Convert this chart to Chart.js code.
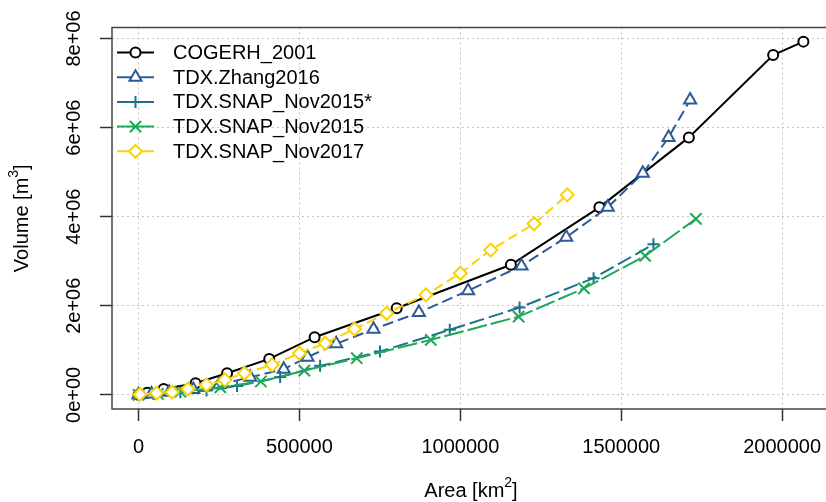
<!DOCTYPE html>
<html>
<head>
<meta charset="utf-8">
<script src="https://cdn.jsdelivr.net/npm/chart.js@4.4.1/dist/chart.umd.min.js"></script>
<style>
    html, body { margin: 0; padding: 0; background: #fff; overflow: hidden; }
    #wrap { width: 840px; height: 502px; }
</style>
</head>
<body>
<div id="wrap"><canvas id="volumeChart" width="840" height="502"></canvas></div>
<script>
// series names (legend order)
const seriesNames = ["COGERH_2001", "TDX.Zhang2016", "TDX.SNAP_Nov2015*", "TDX.SNAP_Nov2015", "TDX.SNAP_Nov2017"];

// area [km2] / volume [m3]
const cogerhArea = [0, 27000, 78000, 177000, 275000, 406000, 547000, 802000, 1157000, 1432000, 1710000, 1972000, 2066000];
const cogerhVol  = [0, 50000, 130000, 260000, 487000, 808000, 1295000, 1945000, 2920000, 4210000, 5780000, 7630000, 7930000];

const zhangArea = [0, 40000, 95000, 170000, 250000, 347000, 451000, 525000, 614000, 730000, 871000, 1024000, 1190000, 1329000, 1458000, 1567000, 1647000, 1714000];
const zhangVol  = [0, 20000, 60000, 120000, 230000, 397000, 577000, 846000, 1145000, 1474000, 1847000, 2340000, 2895000, 3540000, 4210000, 4975000, 5780000, 6620000];

const snapStarArea = [0, 50000, 130000, 211000, 306000, 440000, 564000, 750000, 967000, 1184000, 1414000, 1600000];
const snapStarVol  = [0, 20000, 60000, 100000, 200000, 400000, 651000, 972000, 1460000, 1960000, 2620000, 3380000];

const snap15Area = [0, 60000, 130000, 254000, 380000, 515000, 678000, 908000, 1181000, 1384000, 1574000, 1732000];
const snap15Vol  = [0, 20000, 70000, 170000, 300000, 545000, 823000, 1234000, 1757000, 2390000, 3120000, 3950000];

const snap17Area = [4000, 56000, 104000, 153000, 211000, 268000, 329000, 415000, 500000, 580000, 671000, 771000, 893000, 1000000, 1094000, 1229000, 1332000];
const snap17Vol  = [10000, 40000, 60000, 130000, 224000, 337000, 487000, 673000, 935000, 1160000, 1480000, 1833000, 2244000, 2730000, 3250000, 3840000, 4490000];

// axis ticks
const xTicks = [0, 500000, 1000000, 1500000, 2000000];
const xTickLabels = ["0", "500000", "1000000", "1500000", "2000000"];
const yTicks = [0, 2000000, 4000000, 6000000, 8000000];
const yTickLabels = ["0e+00", "2e+06", "4e+06", "6e+06", "8e+06"];

const FONT = "'Liberation Sans', Arial, sans-serif";

function toPoints(xs, ys) {
    return xs.map((x, i) => ({ x: x, y: ys[i] }));
}

const styles = [
    { color: "#000000", point: "circle",   radius: 5,   dash: [] },
    { color: "#2E5B97", point: "triangle", radius: 7,   dash: [11, 5] },
    { color: "#1B7389", point: "cross",    radius: 6,   dash: [15, 5] },
    { color: "#1FA85A", point: "crossRot", radius: 8,   dash: [20, 4] },
    { color: "#F9D200", point: "rectRot",  radius: 6.5, dash: [10, 5] },
];
const allData = [
    toPoints(cogerhArea, cogerhVol),
    toPoints(zhangArea, zhangVol),
    toPoints(snapStarArea, snapStarVol),
    toPoints(snap15Area, snap15Vol),
    toPoints(snap17Area, snap17Vol),
];

const datasets = seriesNames.map((name, i) => ({
    label: name,
    data: allData[i],
    order: seriesNames.length - i, // later series on top, like R
    borderColor: styles[i].color,
    backgroundColor: "#ffffff",
    borderWidth: 2,
    borderDash: styles[i].dash,
    pointStyle: styles[i].point,
    pointRadius: styles[i].radius,
    pointBorderWidth: 2,
    pointBorderColor: styles[i].color,
    pointBackgroundColor: "#ffffff",
    tension: 0,
}));

// box, tick labels, axis titles and legend drawn in R style
const rStyle = {
    id: "rStyle",
    afterDraw(chart) {
        const ctx = chart.ctx;
        const a = chart.chartArea;
        const xs = chart.scales.x, ys = chart.scales.y;
        ctx.save();

        // plot box
        ctx.strokeStyle = "#444";
        ctx.lineWidth = 1.5;
        ctx.setLineDash([]);
        ctx.strokeRect(a.left, a.top, a.right - a.left, a.bottom - a.top);

        ctx.fillStyle = "#000";
        ctx.font = "20px " + FONT;
        ctx.textBaseline = "middle";
        ctx.textAlign = "center";

        // x tick labels
        xTicks.forEach((v, i) => {
            ctx.fillText(xTickLabels[i], xs.getPixelForValue(v), 447);
        });
        // y tick labels (rotated)
        yTicks.forEach((v, i) => {
            ctx.save();
            ctx.translate(74, ys.getPixelForValue(v));
            ctx.rotate(-Math.PI / 2);
            ctx.fillText(yTickLabels[i], 0, 0);
            ctx.restore();
        });

        // axis titles with superscripts
        function titleWithSup(base, sup, tail, cx, cy, rot) {
            ctx.save();
            ctx.translate(cx, cy);
            ctx.rotate(rot);
            ctx.font = "20px " + FONT;
            const w1 = ctx.measureText(base).width;
            const w3 = ctx.measureText(tail).width;
            ctx.font = "14px " + FONT;
            const w2 = ctx.measureText(sup).width;
            let x = -(w1 + w2 + w3) / 2;
            ctx.textAlign = "left";
            ctx.font = "20px " + FONT;
            ctx.fillText(base, x, 0);
            ctx.font = "14px " + FONT;
            ctx.fillText(sup, x + w1, -8);
            ctx.font = "20px " + FONT;
            ctx.fillText(tail, x + w1 + w2, 0);
            ctx.restore();
        }
        titleWithSup("Area [km", "2", "]", (a.left + a.right) / 2, 491, 0);
        titleWithSup("Volume [m", "3", "]", 22, (a.top + a.bottom) / 2, -Math.PI / 2);

        // legend
        const rowY0 = 52.5, rowStep = 24.7;
        chart.data.datasets.forEach((ds, i) => {
            const y = rowY0 + i * rowStep;
            ctx.strokeStyle = ds.borderColor;
            ctx.lineWidth = 2;
            ctx.setLineDash([]);
            ctx.beginPath();
            ctx.moveTo(117, y);
            ctx.lineTo(154, y);
            ctx.stroke();
            ctx.fillStyle = "#ffffff";
            ctx.strokeStyle = ds.borderColor;
            Chart.helpers.drawPoint(ctx, {
                pointStyle: ds.pointStyle,
                radius: ds.pointRadius,
                borderWidth: 2,
                rotation: 0,
            }, 135.5, y);
            ctx.fillStyle = "#000";
            ctx.font = "20px " + FONT;
            ctx.textAlign = "left";
            ctx.textBaseline = "middle";
            ctx.fillText(ds.label, 173, y + 1);
        });

        ctx.restore();
    },
};

const gridCommon = {
    color: "#c4c4c4",
    lineWidth: 1,
    drawTicks: true,
    tickLength: 12,
    tickColor: "#333",
    tickWidth: 1.5,
};

new Chart(document.getElementById("volumeChart").getContext("2d"), {
    type: "line",
    data: { datasets: datasets },
    options: {
        responsive: false,
        animation: false,
        devicePixelRatio: 1,
        layout: { padding: { left: 100, top: 27.5, right: 8, bottom: 81 } },
        plugins: {
            legend: { display: false },
            tooltip: { enabled: false },
        },
        scales: {
            x: {
                type: "linear",
                min: -82640,
                max: 2148640,
                grid: gridCommon,
                border: { display: false, dash: [2, 3] },
                ticks: { display: false },
                afterBuildTicks: (scale) => { scale.ticks = xTicks.map(v => ({ value: v })); },
                afterFit: (scale) => { scale.height = 12; },
            },
            y: {
                type: "linear",
                min: -317200,
                max: 8247200,
                grid: gridCommon,
                border: { display: false, dash: [2, 3] },
                ticks: { display: false },
                afterBuildTicks: (scale) => { scale.ticks = yTicks.map(v => ({ value: v })); },
                afterFit: (scale) => { scale.width = 12; },
            },
        },
    },
    plugins: [rStyle],
});
</script>
</body>
</html>
